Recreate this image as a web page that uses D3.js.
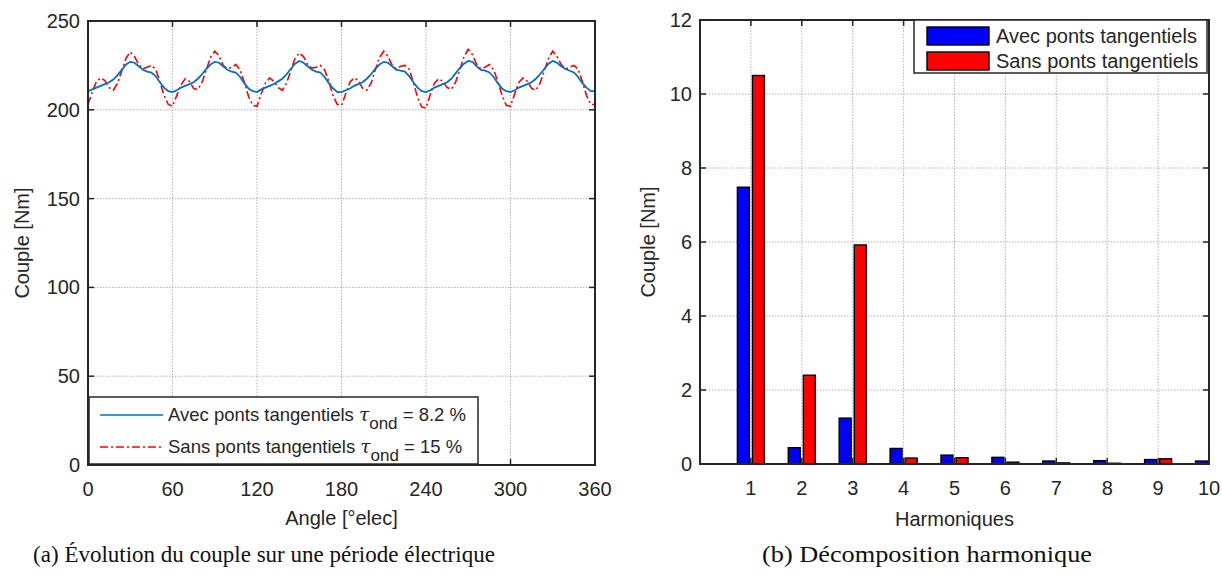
<!DOCTYPE html>
<html><head><meta charset="utf-8">
<script src="https://cdn.jsdelivr.net/npm/d3@7"></script>
<style>
body{margin:0;background:#fff;}
text{font-family:"Liberation Sans",Arial,sans-serif;fill:#262626;}
.cap{font-family:"Liberation Serif","DejaVu Serif",serif;fill:#111;}
</style></head><body>
<svg id="c" width="1222" height="574"></svg>
<script>
// ---- Data ----
const angleStep = 3; // degrees between samples (0..360)
const avecTorque = [
210.5,211.5,212.5,213.5,214.5,215.5,217,219.5,222.5,225.5,227,226.5,224.5,222.5,221.5,221,219,215.5,212.5,210.5,
210,211,212.5,213.5,214.5,215.5,217.5,220,223,225.5,227,226.5,224.5,222.5,221.5,221,218.5,215,212,210.5,
210,211.5,212.5,213.5,214.5,216,217.5,220,223,226,227.5,226.5,224.5,222.5,221.5,221,218.5,215,212,210,
210,211,212,213.5,214.5,215.5,217.5,220,223,225.5,227,226.5,224.5,222.5,222,221.5,219,215.5,212.5,210.5,
210,211,212.5,213.5,214.5,215.5,217.5,220.5,223.5,226,227.5,227,224.5,222.5,222,221,218.5,215,212,210.5,
210,211,212.5,213.5,214.5,215.5,217.5,220,223,226,227.5,226.5,224.5,223,222,221,218.5,215,212.5,210.5,
210.5];
const sansTorque = [
203,210,216,218,216.5,212.5,211,215,222,229,232.5,230,225.5,223,224,225,223,216,208,203,
202,208,214,217.5,216,212,211.5,215.5,222.5,229.5,233,230.5,225,223,224,225.5,222.5,215.5,207.5,202.5,
202,209,215,218,216,212.5,211,215,222,229,232,230,225.5,223.5,224,225,222.5,216,208,203,
202.5,209,215.5,218,216.5,212,211,215,222.5,229.5,233,230,225,223,224.5,225,223,215.5,207,201.5,
201,208.5,215,217.5,216,212.5,211.5,215.5,222.5,230,234,231,225.5,223,224,225.5,222.5,216,208,202.5,
202,209,215.5,218,216,212,211,215,222,229,233,230,225.5,223,224,225,223,216,208,203,
203];
const angleTicks = [0,60,120,180,240,300,360];
const torqueTicks = [0,50,100,150,200,250];

const harmonics = [1,2,3,4,5,6,7,8,9,10];
const avecHarm = [7.48,0.44,1.24,0.42,0.24,0.18,0.08,0.09,0.12,0.08];
const sansHarm = [10.5,2.4,5.92,0.16,0.17,0.05,0.03,0.02,0.14,0.02];
const harmYTicks = [0,2,4,6,8,10,12];

const seriesNames = ["Avec ponts tangentiels","Sans ponts tangentiels"];
const tauValues = ["8.2","15"];
const captions = ["(a) Évolution du couple sur une période électrique","(b) Décomposition harmonique"];

// ---- Setup ----
const svg = d3.select("#c");
svg.append("rect").attr("width",1222).attr("height",574).attr("fill","#fff");
const AX = "#262626", GRID = "#b4b4b4";
const blue = "#0072BD", red = "#ff0000";

function frame(g, x, y, xt, yt){
  const [x0,x1] = x.range(), [y0,y1] = y.range();
  g.append("g").selectAll("line").data(xt.filter(v=>x(v)>x0+1 && x(v)<x1-1)).join("line")
    .attr("x1",d=>x(d)).attr("x2",d=>x(d)).attr("y1",y0).attr("y2",y1)
    .attr("stroke",GRID).attr("stroke-width",1).attr("stroke-dasharray","1.5,1.5");
  g.append("g").selectAll("line").data(yt.filter(v=>y(v)<y0-1 && y(v)>y1+1)).join("line")
    .attr("y1",d=>y(d)).attr("y2",d=>y(d)).attr("x1",x0).attr("x2",x1)
    .attr("stroke",GRID).attr("stroke-width",1).attr("stroke-dasharray","1.5,1.5");
}
function axesBox(g, x, y, xt, yt){
  const [x0,x1] = x.range(), [y0,y1] = y.range();
  const tl = 6;
  const ticks = g.append("g").attr("stroke",AX).attr("stroke-width",1.5);
  xt.forEach(v=>{
    ticks.append("line").attr("x1",x(v)).attr("x2",x(v)).attr("y1",y0).attr("y2",y0-tl);
    ticks.append("line").attr("x1",x(v)).attr("x2",x(v)).attr("y1",y1).attr("y2",y1+tl);
  });
  yt.forEach(v=>{
    ticks.append("line").attr("y1",y(v)).attr("y2",y(v)).attr("x1",x0).attr("x2",x0+tl);
    ticks.append("line").attr("y1",y(v)).attr("y2",y(v)).attr("x1",x1).attr("x2",x1-tl);
  });
  g.append("rect").attr("x",x0).attr("y",y1).attr("width",x1-x0).attr("height",y0-y1)
    .attr("fill","none").attr("stroke",AX).attr("stroke-width",2);
  g.append("g").selectAll("text").data(xt).join("text")
    .attr("x",d=>x(d)).attr("y",y0+31).attr("text-anchor","middle")
    .style("font-size","20px").text(d=>d);
  g.append("g").selectAll("text").data(yt).join("text")
    .attr("x",x0-8).attr("y",d=>y(d)+7).attr("text-anchor","end")
    .style("font-size","20px").text(d=>d);
}

// ---- Left chart ----
const xA = d3.scaleLinear().domain([0,360]).range([88,595]);
const yA = d3.scaleLinear().domain([0,250]).range([465,21]);
const gA = svg.append("g");
frame(gA,xA,yA,angleTicks,torqueTicks);
svg.append("clipPath").attr("id","clipA").append("rect")
  .attr("x",88).attr("y",21).attr("width",507).attr("height",444);
const lineA = d3.line().x((d,i)=>xA(i*angleStep)).y(d=>yA(d));
gA.append("path").datum(sansTorque).attr("d",lineA).attr("clip-path","url(#clipA)")
  .attr("fill","none").attr("stroke",red).attr("stroke-width",1.6)
  .attr("stroke-dasharray","8,3,2,3");
gA.append("path").datum(avecTorque).attr("d",lineA).attr("clip-path","url(#clipA)")
  .attr("fill","none").attr("stroke",blue).attr("stroke-width",1.8);
axesBox(gA,xA,yA,angleTicks,torqueTicks);
gA.append("text").attr("x",(88+595)/2).attr("y",525).attr("text-anchor","middle")
  .style("font-size","20px").text("Angle [°elec]");
gA.append("text").attr("transform",`translate(29,${(21+465)/2}) rotate(-90)`)
  .attr("text-anchor","middle").style("font-size","20px").text("Couple [Nm]");

// legend A
const legA = gA.append("g");
legA.append("rect").attr("x",89).attr("y",397).attr("width",389).attr("height",67)
  .attr("fill","#fff").attr("stroke",AX).attr("stroke-width",1.5);
const legRowsA = [{c:blue,dash:null,y:415},{c:red,dash:"8,3,2,3",y:447}];
legRowsA.forEach((r,i)=>{
  legA.append("line").attr("x1",100).attr("x2",163).attr("y1",r.y).attr("y2",r.y)
    .attr("stroke",r.c).attr("stroke-width",1.6).attr("stroke-dasharray",r.dash);
  const t = legA.append("text").attr("x",168).attr("y",r.y+6).style("font-size","18.5px");
  t.append("tspan").text(seriesNames[i]+" ");
  t.append("tspan").style("font-family","'DejaVu Serif',serif").style("font-style","italic").text("τ");
  t.append("tspan").attr("dy",8).style("font-size","17px").text("ond");
  t.append("tspan").attr("dy",-8).text(" = "+tauValues[i]+" %");
});

// ---- Right chart ----
const xB = d3.scaleLinear().domain([0,10]).range([700,1209]);
const yB = d3.scaleLinear().domain([0,12]).range([464,20]);
const gB = svg.append("g");
frame(gB,xB,yB,harmonics,harmYTicks);
svg.append("clipPath").attr("id","clipB").append("rect")
  .attr("x",700).attr("y",20).attr("width",509).attr("height",444);
const bw = 0.235, off = 0.148;
const barsG = gB.append("g").attr("clip-path","url(#clipB)");
[[avecHarm,"#0000ff",-off],[sansHarm,"#ff0000",off]].forEach(([vals,col,o])=>{
  barsG.selectAll(null).data(vals).join("rect")
    .attr("x",(d,i)=>xB(harmonics[i]+o-bw/2)).attr("width",xB(bw)-xB(0))
    .attr("y",d=>yB(d)).attr("height",d=>yB(0)-yB(d))
    .attr("fill",col).attr("stroke","#000").attr("stroke-width",1.4);
});
axesBox(gB,xB,yB,harmonics,harmYTicks);
gB.append("text").attr("x",(700+1209)/2).attr("y",526).attr("text-anchor","middle")
  .style("font-size","20px").text("Harmoniques");
gB.append("text").attr("transform",`translate(655,${(20+464)/2}) rotate(-90)`)
  .attr("text-anchor","middle").style("font-size","20px").text("Couple [Nm]");

// legend B
const legB = gB.append("g");
legB.append("rect").attr("x",914).attr("y",20).attr("width",293).attr("height",53)
  .attr("fill","#fff").attr("stroke",AX).attr("stroke-width",1.5);
[["#0000ff",27],["#ff0000",52]].forEach(([c,y],i)=>{
  legB.append("rect").attr("x",927).attr("y",y).attr("width",62).attr("height",18)
    .attr("fill",c).attr("stroke","#000").attr("stroke-width",1.4);
  legB.append("text").attr("x",996).attr("y",y+16).style("font-size","20px").text(seriesNames[i]);
});

// captions
svg.append("text").attr("class","cap").attr("x",264).attr("y",562).attr("text-anchor","middle")
  .style("font-size","23px").text(captions[0]);
svg.append("text").attr("class","cap").attr("x",927).attr("y",562).attr("text-anchor","middle")
  .attr("textLength",330).attr("lengthAdjust","spacingAndGlyphs")
  .style("font-size","23px").text(captions[1]);
</script></body></html>
